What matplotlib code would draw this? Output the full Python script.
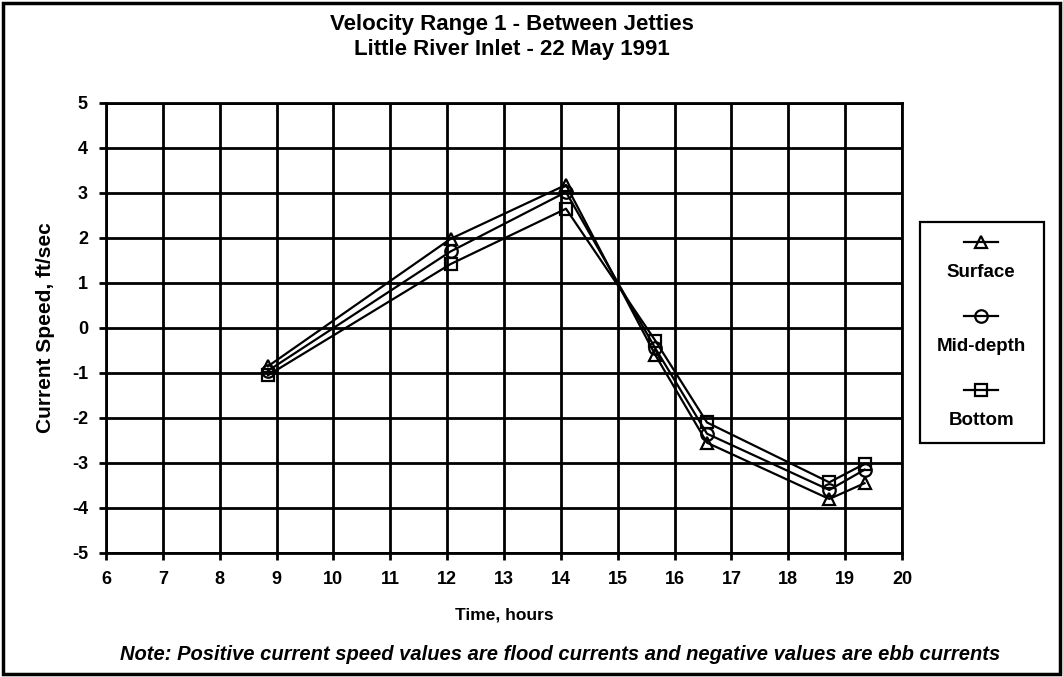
import numpy as np
import matplotlib.pyplot as plt
from matplotlib.patches import Rectangle
from matplotlib.lines import Line2D

plt.rcParams['font.family'] = ['Liberation Sans', 'DejaVu Sans']
plt.rcParams['font.weight'] = 'bold'
plt.rcParams['axes.unicode_minus'] = False

# measurement times (hours) and current speed (ft/sec)
hours = [8.85, 12.06, 14.09, 15.66, 16.57, 18.72, 19.34]
surface = [-0.85, 1.98, 3.18, -0.60, -2.55, -3.80, -3.45]
mid_depth = [-0.95, 1.70, 3.02, -0.45, -2.35, -3.60, -3.15]
bottom = [-1.05, 1.42, 2.65, -0.28, -2.10, -3.43, -3.02]

series_names = ['Surface', 'Mid-depth', 'Bottom']
series_markers = ['^', 'o', 's']
x_ticks = list(range(6, 21))
y_ticks = list(range(-5, 6))

fig = plt.figure(figsize=(10.63, 6.77), dpi=100)
ax = fig.add_axes([0.0997, 0.1832, 0.7489, 0.6647])

line_kw = dict(color='black', lw=1.6, markersize=9, markerfacecolor='none',
               markeredgecolor='black', markeredgewidth=1.6)
for vals, m in zip([surface, mid_depth, bottom], series_markers):
    ax.plot(hours, vals, marker=m, **line_kw)

ax.set_xlim(6, 20)
ax.set_ylim(-5, 5)
ax.set_xticks(x_ticks)
ax.set_yticks(y_ticks)
ax.grid(True, color='black', lw=2.0)
ax.set_axisbelow(True)
for s in ax.spines.values():
    s.set_linewidth(2.0)
ax.tick_params(direction='out', length=5, width=2, labelsize=13, pad=8)
for lab in ax.get_xticklabels() + ax.get_yticklabels():
    lab.set_fontweight('bold')

ax.set_xlabel('Time, hours', fontsize=12.5, fontweight='bold', labelpad=14)
ax.set_ylabel('Current Speed, ft/sec', fontsize=15, fontweight='bold', labelpad=12)

fig.text(0.482, 0.964, 'Velocity Range 1 - Between Jetties', ha='center', va='center',
         fontsize=16, fontweight='bold')
fig.text(0.482, 0.927, 'Little River Inlet - 22 May 1991', ha='center', va='center',
         fontsize=16, fontweight='bold')
fig.text(0.527, 0.033,
         'Note: Positive current speed values are flood currents and negative values are ebb currents',
         ha='center', va='center', fontsize=14.5, fontweight='bold', style='italic')

# legend box: each marker drawn on a short line above its label
fig.patches.append(Rectangle((0.8655, 0.3457), 0.1167, 0.3264, transform=fig.transFigure,
                             fill=False, edgecolor='black', lw=1.6))
leg_x = 0.923
for i, (name, m) in enumerate(zip(series_names, series_markers)):
    ym = 0.643 - i * 0.1095
    fig.add_artist(Line2D([leg_x - 0.016, leg_x + 0.016], [ym, ym], transform=fig.transFigure,
                          marker=None, color='black', lw=1.6))
    fig.add_artist(Line2D([leg_x], [ym], transform=fig.transFigure, marker=m, markersize=9,
                          markerfacecolor='none', markeredgecolor='black',
                          markeredgewidth=1.6, linestyle='none'))
    fig.text(leg_x, ym - 0.045, name, ha='center', va='center', fontsize=13.5,
             fontweight='bold')

# outer frame round the whole figure
fig.patches.append(Rectangle((0.003, 0.004), 0.994, 0.992, transform=fig.transFigure,
                             fill=False, edgecolor='black', lw=2.5))

fig.savefig('out.png', dpi=100)
